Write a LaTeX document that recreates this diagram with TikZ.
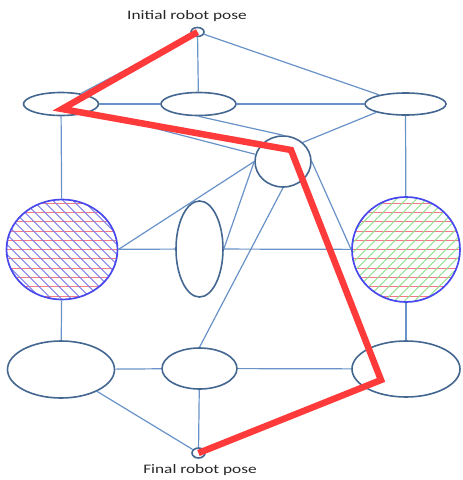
\documentclass[tikz,border=0pt]{standalone}
\usepackage{fontspec}
\usepackage{graphicx}
\setmainfont{Carlito}
\usetikzlibrary{shapes.geometric,calc}

\definecolor{edgeblue}{RGB}{104,146,200}
\definecolor{nodeblue}{RGB}{68,103,145}
\definecolor{rimblue}{RGB}{72,72,238}
\definecolor{pathred}{RGB}{255,58,58}
\definecolor{hatchred}{RGB}{246,122,132}
\definecolor{hatchblue}{RGB}{118,118,230}
\definecolor{hatchgreen}{RGB}{136,224,136}

\begin{document}
\begin{tikzpicture}[x=1pt,y=-1pt,
  state/.style={ellipse, draw=nodeblue, line width=1.6pt, inner sep=0pt,
                minimum width=#1},
  state/.default=75,
  obstacle/.style={ellipse, draw=rimblue, line width=1.7pt, inner sep=0pt},
  link/.style={draw=edgeblue, line width=1.2pt},
  route/.style={draw=pathred, line width=6.5pt, line join=miter},
  pose/.style={font=\fontsize{13}{15}\selectfont, text=black!85,
               inner sep=0pt, anchor=base},
  hatchline/.style={line width=0.75pt},
]
\useasboundingbox (0,0) rectangle (463,480);

% ---- states ----
\node[state, minimum width=13, minimum height=9] (top) at (197.5,32) {};
\node[state, minimum width=13, minimum height=10] (bot) at (198.5,453) {};

\node[state=75, minimum height=23] (r1l) at (61,104) {};
\node[state=75, minimum height=23] (r1m) at (198.5,104) {};
\node[state=81, minimum height=22] (r1r) at (405.5,104) {};

\node[state=56, minimum height=51] (circ) at (283,161.5) {};
\node[state=47, minimum height=96] (tall) at (199.5,249) {};

\node[state=107, minimum height=57] (r3l) at (61,369.5) {};
\node[state=75, minimum height=41] (r3m) at (199.5,368.5) {};
\node[state=108, minimum height=56] (r3r) at (406,369) {};

% ---- hatched obstacles ----
\node[obstacle, minimum width=111, minimum height=100,
  path picture={
    \begin{scope}[shift={(path picture bounding box.center)}]
      \foreach \k in {-6,...,6}
        \draw[hatchline, hatchred] (-70,\k*9.3) -- (70,\k*9.3);
      \foreach \k in {-16,...,16}
        \draw[hatchline, hatchblue] (\k*10-70,-70) -- (\k*10+70,70);
    \end{scope}}] (hl) at (62,249.5) {};

\node[obstacle, minimum width=108, minimum height=105,
  path picture={
    \begin{scope}[shift={(path picture bounding box.center)}]
      \foreach \k in {-6,...,6}
        \draw[hatchline, hatchred] (-70,\k*9.3) -- (70,\k*9.3);
      \foreach \k in {-16,...,16}
        \draw[hatchline, hatchgreen] (\k*10-70,70) -- (\k*10+70,-70);
    \end{scope}}] (hr) at (406,249.5) {};

% ---- graph edges ----
\path[link] (top) -- (r1m);
\path[link] (top) -- (r1r);
\path[link] (top) -- (r1l);
\path[link] (r1l) -- (r1m);
\path[link] (r1m) -- (r1r);
\path[link] (r1l) -- (circ);
\path[link] (r1m.south) -- (circ.north);
\path[link] (circ.44) -- (r1r.196);
\path[link] (r1l) -- (hl);
\path[link] (r1r) -- (hr);
\path[link] (circ.west) -- (hl.east);
\path[link] (circ.west) -- (tall.east);
\path[link] (circ.south) -- (r3m.north);
\path[link] (circ.east) -- (hr.west);
\path[link] (hl) -- (tall);
\path[link] (tall) -- (hr);
\path[link] (hl) -- (r3l);
\path[link] (hr) -- (r3r);
\path[link] (r3l) -- (r3m);
\path[link] (r3m) -- (r3r);
\path[link] (r3l) -- (bot);
\path[link] (r3m) -- (bot);
\path[link] (r3r) -- (bot);

% ---- labels ----
\node[pose] (lbltop) at (187,19) {\scalebox{1.33}[1]{Initial robot pose}};
\node[pose] (lblbot) at (200,473) {\scalebox{1.33}[1]{Final robot pose}};

% ---- robot route ----
\coordinate (bendA) at (62,109);
\coordinate (bendB) at (291,150);
\coordinate (bendC) at (381,380);
\path[route] (top.center) -- (bendA) -- (bendB) -- (bendC) -- (bot.center);
\end{tikzpicture}
\end{document}
